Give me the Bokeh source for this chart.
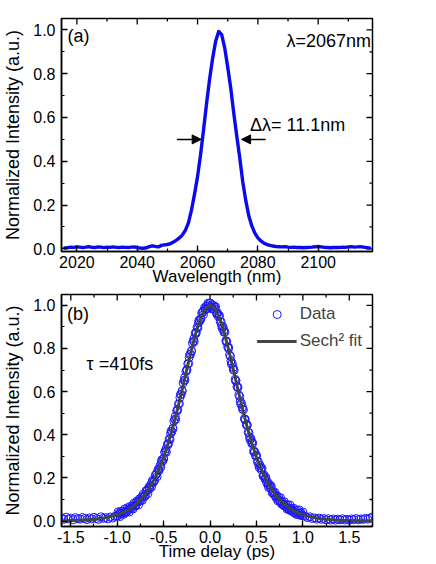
import math
from bokeh.plotting import figure
from bokeh.layouts import column
from bokeh.models import (Range1d, SingleIntervalTicker, PrintfTickFormatter,
                          Arrow, NormalHead, Label, Legend, LegendItem)
from bokeh.embed import file_html
from bokeh.resources import INLINE

FONT = "Liberation Sans"

# ---------------- data: panel (a) spectrum ----------------
wavelength_nm = list(range(2016, 2118))
spectrum = [
    0.004, 0.006, 0.008, 0.007, 0.009, 0.008, 0.006, 0.008, 0.010, 0.007,
    0.006, 0.009, 0.008, 0.006, 0.008, 0.007, 0.009, 0.007, 0.006, 0.008,
    0.007, 0.006, 0.008, 0.009, 0.006, 0.004, 0.003, 0.005, 0.010, 0.014,
    0.011, 0.009, 0.016, 0.018, 0.020, 0.024, 0.031, 0.040, 0.050, 0.064,
    0.086, 0.120, 0.178, 0.250, 0.330, 0.430, 0.545, 0.665, 0.775, 0.870,
    0.948, 0.993, 0.978, 0.918, 0.830, 0.735, 0.620, 0.515, 0.415, 0.305,
    0.220, 0.150, 0.105, 0.072, 0.050, 0.036, 0.026, 0.020, 0.016, 0.013,
    0.011, 0.010, 0.009, 0.010, 0.008, 0.007, 0.008, 0.006, 0.007, 0.005,
    0.006, 0.007, 0.008, 0.010, 0.011, 0.009, 0.007, 0.006, 0.005, 0.006,
    0.007, 0.006, 0.008, 0.007, 0.009, 0.010, 0.008, 0.009, 0.010, 0.008,
    0.006, 0.004,
]
fwhm_left_nm = 2061.2
fwhm_right_nm = 2074.6
arrow_len_nm = 8.0
label_a = "(a)"
label_center = "\u03bb=2067nm"
label_width = "\u0394\u03bb= 11.1nm"
xr_a = (2014.9, 2118.0)
yr_a = (-0.012, 1.052)
xticks_a_major = [2020, 2040, 2060, 2080, 2100]
xticks_a_minor = [2030, 2050, 2070, 2090, 2110]

# ---------------- data: panel (b) autocorrelation ----------------
t_wing_left = [round(-1.6 + 0.025 * i, 3) for i in range(24)]
ac_wing_left = [
    0.015, 0.008, 0.018, 0.010, 0.014, 0.006, 0.016, 0.011,
    0.009, 0.017, 0.012, 0.007, 0.015, 0.010, 0.018, 0.012,
    0.008, 0.020, 0.013, 0.016, 0.010, 0.019, 0.014, 0.022,
]
t_center = [round(-1.0 + 0.01 * i, 2) for i in range(201)]
ac_center = [
    0.023, 0.043, 0.037, 0.021, 0.045, 0.036, 0.046, 0.031, 0.056, 0.041,
    0.041, 0.062, 0.057, 0.042, 0.068, 0.059, 0.070, 0.056, 0.083, 0.069,
    0.071, 0.092, 0.089, 0.075, 0.103, 0.096, 0.109, 0.096, 0.125, 0.113,
    0.116, 0.140, 0.139, 0.127, 0.157, 0.153, 0.168, 0.158, 0.189, 0.180,
    0.186, 0.213, 0.215, 0.206, 0.239, 0.238, 0.256, 0.250, 0.284, 0.278,
    0.288, 0.319, 0.324, 0.319, 0.356, 0.359, 0.381, 0.379, 0.417, 0.415,
    0.429, 0.463, 0.472, 0.471, 0.511, 0.518, 0.543, 0.544, 0.586, 0.587,
    0.604, 0.640, 0.652, 0.653, 0.694, 0.702, 0.729, 0.730, 0.772, 0.773,
    0.788, 0.824, 0.834, 0.832, 0.871, 0.875, 0.898, 0.895, 0.931, 0.927,
    0.936, 0.964, 0.967, 0.957, 0.988, 0.983, 0.997, 0.984, 1.010, 0.994,
    1.010, 0.991, 1.002, 0.982, 0.999, 0.983, 0.993, 0.961, 0.966, 0.947,
    0.953, 0.924, 0.923, 0.893, 0.900, 0.875, 0.876, 0.836, 0.833, 0.807,
    0.805, 0.770, 0.764, 0.728, 0.731, 0.702, 0.699, 0.657, 0.651, 0.623,
    0.621, 0.584, 0.578, 0.542, 0.545, 0.518, 0.516, 0.475, 0.471, 0.446,
    0.446, 0.412, 0.409, 0.377, 0.383, 0.359, 0.361, 0.323, 0.323, 0.302,
    0.305, 0.275, 0.276, 0.248, 0.258, 0.238, 0.244, 0.210, 0.214, 0.196,
    0.203, 0.177, 0.181, 0.156, 0.170, 0.153, 0.162, 0.131, 0.138, 0.123,
    0.133, 0.110, 0.117, 0.094, 0.111, 0.096, 0.108, 0.079, 0.088, 0.075,
    0.090, 0.068, 0.077, 0.056, 0.074, 0.061, 0.075, 0.048, 0.058, 0.047,
    0.060, 0.040, 0.050, 0.031, 0.050, 0.038, 0.052, 0.027, 0.038, 0.028,
    0.042,
]
t_scan2 = [round(-1.0 + 0.025 * i, 3) for i in range(81)]
ac_scan2 = [
    0.025, 0.031, 0.034, 0.040, 0.044, 0.053, 0.058, 0.072,
    0.074, 0.090, 0.094, 0.115, 0.118, 0.145, 0.150, 0.180,
    0.188, 0.222, 0.234, 0.274, 0.290, 0.335, 0.355, 0.405,
    0.430, 0.485, 0.512, 0.572, 0.602, 0.665, 0.698, 0.758,
    0.788, 0.845, 0.870, 0.918, 0.938, 0.972, 0.980, 1.002,
    1.010, 0.985, 0.992, 0.960, 0.950, 0.905, 0.885, 0.830,
    0.800, 0.742, 0.712, 0.650, 0.618, 0.556, 0.528, 0.470,
    0.445, 0.390, 0.368, 0.320, 0.302, 0.260, 0.246, 0.210,
    0.198, 0.168, 0.160, 0.132, 0.118, 0.104, 0.092, 0.080,
    0.070, 0.062, 0.052, 0.050, 0.040, 0.037, 0.030, 0.033,
    0.024,
]
t_wing_right = [round(1.025 + 0.025 * i, 3) for i in range(30)]
ac_wing_right = [
    0.022, 0.016, 0.020, 0.012, 0.015, 0.009, 0.014,
    0.008, 0.012, 0.006, 0.011, 0.005, 0.010, 0.004, 0.009,
    0.006, 0.011, 0.005, 0.008, 0.004, 0.010, 0.007, 0.012,
    0.006, 0.010, 0.008, 0.013, 0.009, 0.014, 0.020,
]
fit_delay_ps = [round(-1.6 + 0.05 * i, 2) for i in range(68)]
fit_values = [
    0.0016, 0.0021, 0.0026, 0.0033, 0.0043, 0.0055, 0.0070, 0.0090,
    0.0114, 0.0146, 0.0185, 0.0236, 0.0300, 0.038, 0.048, 0.061,
    0.078, 0.098, 0.124, 0.156, 0.194, 0.240, 0.296, 0.361,
    0.436, 0.520, 0.610, 0.704, 0.795, 0.877, 0.943, 0.985,
    1.000,
    0.985, 0.943, 0.877, 0.795, 0.704, 0.610, 0.520, 0.436,
    0.361, 0.296, 0.240, 0.194, 0.156, 0.124, 0.098, 0.078,
    0.061, 0.048, 0.038, 0.0300, 0.0236, 0.0185, 0.0146, 0.0114,
    0.0090, 0.0070, 0.0055, 0.0043, 0.0033, 0.0026, 0.0021, 0.0016,
    0.0013, 0.0010, 0.0008,
]
label_b = "(b)"
label_tau = "\u03c4 =410fs"
legend_labels = ["Data", "Sech\u00b2 fit"]
xr_b = (-1.6, 1.75)
yr_b = (-0.025, 1.05)
xticks_b_major = [-1.5, -1.0, -0.5, 0.0, 0.5, 1.0, 1.5]
xticks_b_minor = [-1.25, -0.75, -0.25, 0.25, 0.75, 1.25]
yticks_major = [0.0, 0.2, 0.4, 0.6, 0.8, 1.0]
yticks_minor = [0.1, 0.3, 0.5, 0.7, 0.9]

y_label = "Normalized Intensity (a.u.)"
x_label_a = "Wavelength (nm)"
x_label_b = "Time delay (ps)"

MAJ = 6
MIN = 3


def style_axis(ax):
    ax.axis_line_color = "black"
    ax.axis_line_width = 1.5
    ax.major_tick_in = MAJ
    ax.major_tick_out = 0
    ax.minor_tick_in = MIN
    ax.minor_tick_out = 0
    ax.major_tick_line_color = "black"
    ax.minor_tick_line_color = "black"
    ax.major_tick_line_width = 1.3
    ax.minor_tick_line_width = 1.2
    ax.major_label_text_font = FONT
    ax.major_label_text_font_size = "16px"
    ax.major_label_text_color = "black"
    ax.axis_label_text_font = FONT
    ax.axis_label_text_font_style = "normal"
    ax.axis_label_text_color = "black"


def make_fig(height, xr, yr, xtick, xfmt, min_top, min_bottom, xlabel,
             axis_label_standoff_x, xmaj, xmin):
    p = figure(width=392, height=height, output_backend="svg", toolbar_location=None,
               x_range=Range1d(*xr), y_range=Range1d(*yr),
               min_border_left=56, min_border_right=20,
               min_border_top=min_top, min_border_bottom=min_bottom)
    p.xgrid.visible = False
    p.ygrid.visible = False
    p.outline_line_color = "black"
    p.outline_line_width = 1.5
    p.background_fill_color = "white"
    p.border_fill_color = "white"

    xb = p.xaxis[0]
    xb.ticker = SingleIntervalTicker(interval=xtick, num_minor_ticks=2)
    xb.formatter = PrintfTickFormatter(format=xfmt)
    style_axis(xb)
    xb.major_label_standoff = 4
    xb.axis_label = xlabel
    xb.axis_label_text_font_size = "17px"
    xb.axis_label_standoff = axis_label_standoff_x

    yl = p.yaxis[0]
    yl.ticker = SingleIntervalTicker(interval=0.2, num_minor_ticks=2)
    yl.formatter = PrintfTickFormatter(format="%.1f")
    style_axis(yl)
    yl.major_label_standoff = 6
    yl.axis_label = y_label
    yl.axis_label_text_font_size = "18px"
    yl.axis_label_standoff = 7

    # inward ticks on the top and right frame edges (half of each dash is clipped away)
    for ticks, ln in ((xmaj, MAJ), (xmin, MIN)):
        p.scatter(ticks, [yr[1]] * len(ticks), marker="dash", angle=math.pi / 2,
                  size=2 * ln, line_color="black", line_width=1.3)
    for ticks, ln in ((yticks_major, MAJ), (yticks_minor, MIN)):
        p.scatter([xr[1]] * len(ticks), ticks, marker="dash", angle=0,
                  size=2 * ln, line_color="black", line_width=1.3)
    return p


# ---------------- panel (a) ----------------
p1 = make_fig(288, xr_a, yr_a, 20, "%d", 18, 37, x_label_a, -4,
              xticks_a_major, xticks_a_minor)
p1.line(wavelength_nm, spectrum, line_color="#0a0aee", line_width=3.4,
        line_join="round", line_cap="round")

for x_head, sign in ((fwhm_left_nm, -1), (fwhm_right_nm, 1)):
    p1.add_layout(Arrow(end=NormalHead(size=9, fill_color="black", line_color="black"),
                        x_start=x_head + sign * arrow_len_nm, y_start=0.5,
                        x_end=x_head, y_end=0.5, line_width=1.5, line_color="black"))

for txt, x, y, align in [(label_a, 2016.9, 0.972, "left"),
                         (label_center, 2117.5, 0.95, "right"),
                         (label_width, 2077.4, 0.565, "left")]:
    p1.add_layout(Label(x=x, y=y, text=txt, text_align=align, text_baseline="middle",
                        text_font=FONT, text_font_size="18px", text_color="black"))

# ---------------- panel (b) ----------------
p2 = make_fig(275, xr_b, yr_b, 0.5, "%.1f", 6, 37, x_label_b, -4,
              xticks_b_major, xticks_b_minor)
blue = "#1a1aff"
r_data = None
for tx, vy in ((t_wing_left, ac_wing_left), (t_center, ac_center),
               (t_scan2, ac_scan2), (t_wing_right, ac_wing_right)):
    r = p2.scatter(tx, vy, marker="circle", size=8, fill_color=None,
                   line_color=blue, line_width=1)
    if r_data is None:
        r_data = r
r_fit = p2.line(fit_delay_ps, fit_values, line_color="#444444", line_width=3,
                line_join="round")

for txt, x, y in [(label_b, -1.54, 0.96), (label_tau, -1.33, 0.73)]:
    p2.add_layout(Label(x=x, y=y, text=txt, text_align="left", text_baseline="middle",
                        text_font=FONT, text_font_size="18px", text_color="black"))

legend = Legend(items=[LegendItem(label=legend_labels[0], renderers=[r_data]),
                       LegendItem(label=legend_labels[1], renderers=[r_fit])],
                location="top_right", margin=4, padding=6, glyph_width=40,
                glyph_height=20, spacing=7, label_standoff=3,
                label_text_font=FONT, label_text_font_size="17px",
                background_fill_alpha=0, border_line_alpha=0)
p2.add_layout(legend)

layout = column(p1, p2, spacing=0)
open("out.html", "w").write(file_html(layout, INLINE))
